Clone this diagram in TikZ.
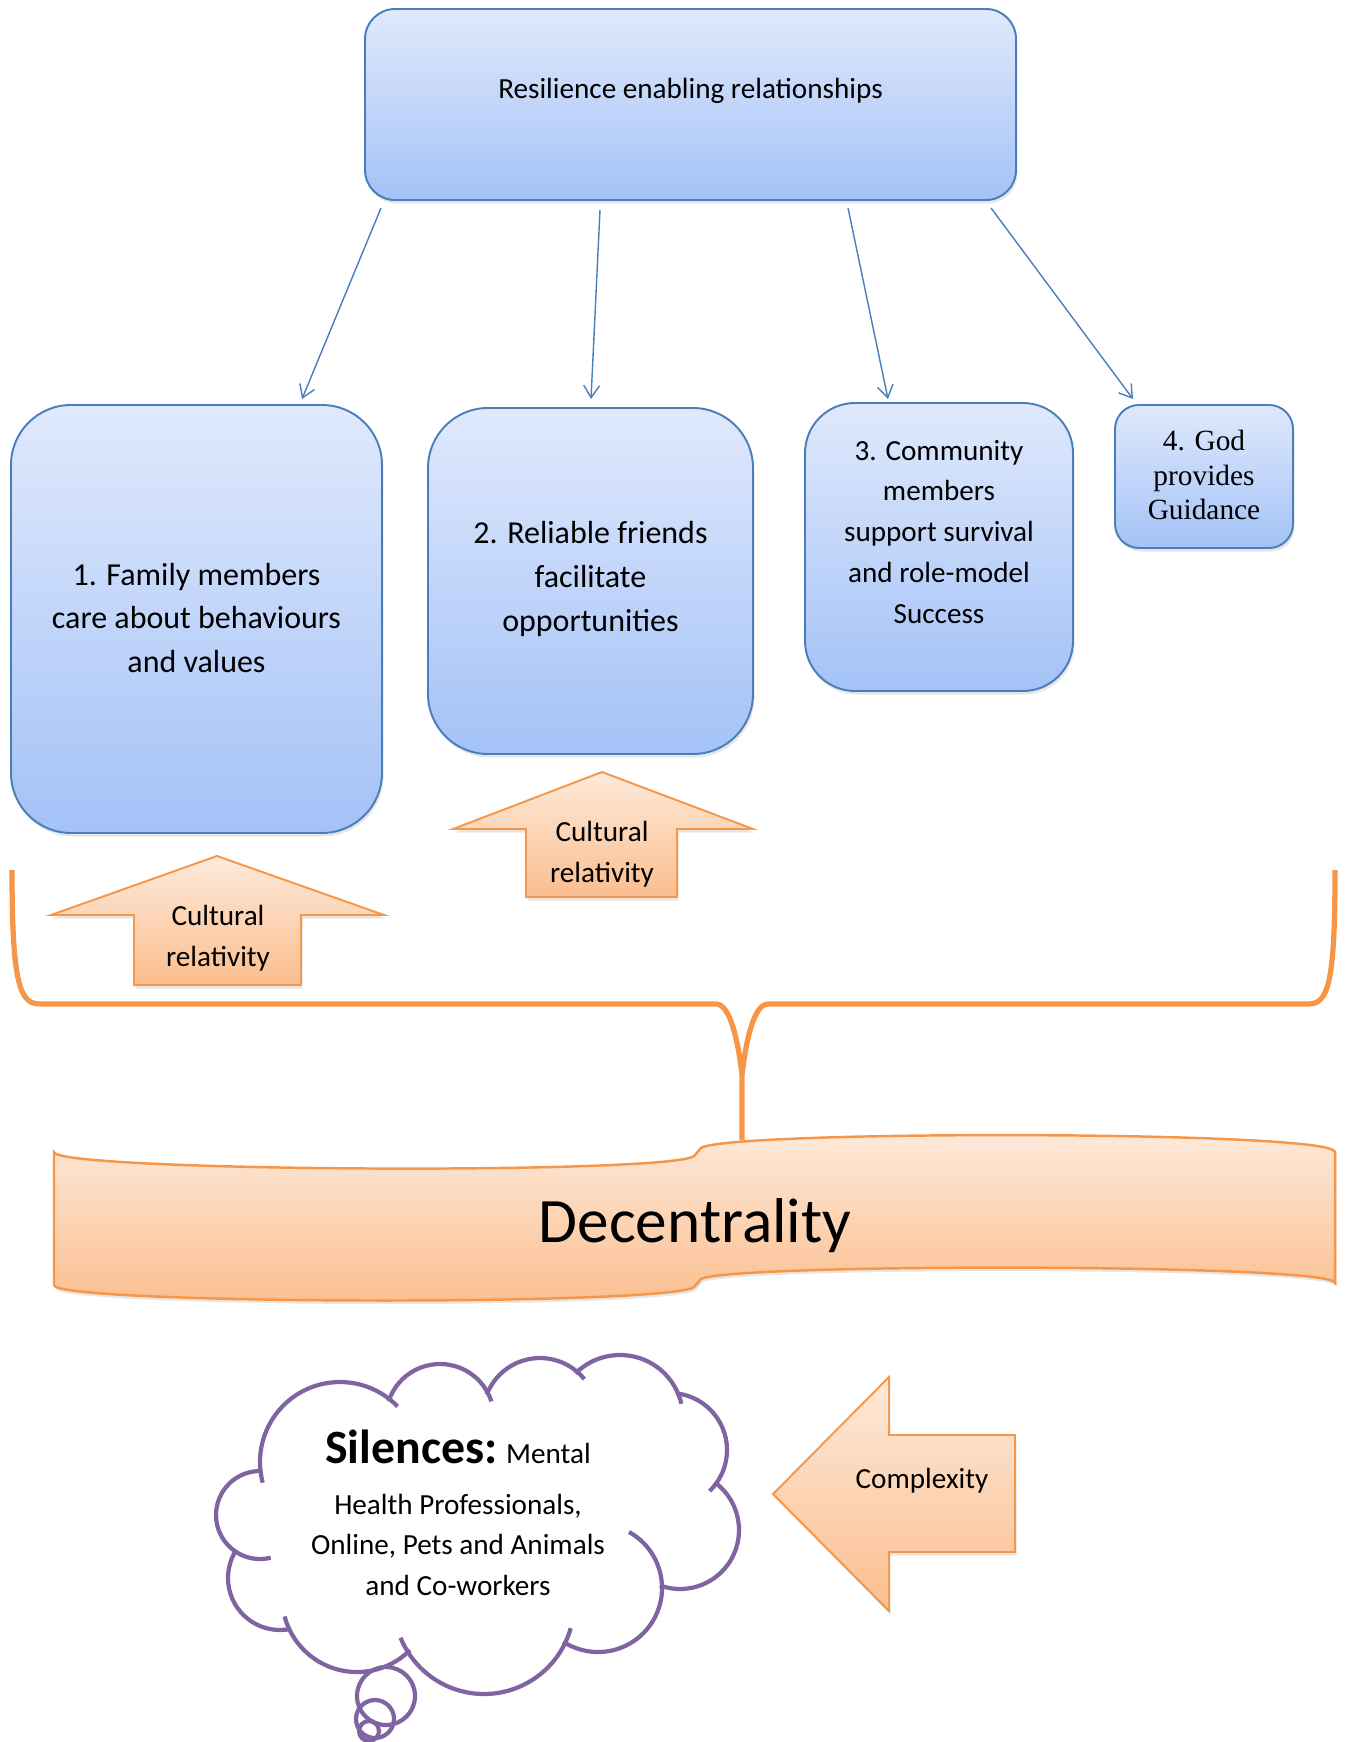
\documentclass[tikz,border=0pt]{standalone}
\usepackage{fontspec}
\setmainfont{Carlito}
\newfontfamily\timesfont{Liberation Serif}
\usetikzlibrary{arrows.meta}
\usetikzlibrary{calc}
\usetikzlibrary{fit}
\usetikzlibrary{shadows}

\definecolor{boxblue}{RGB}{74,126,187}
\definecolor{bluetop}{RGB}{224,233,252}
\definecolor{bluebot}{RGB}{163,194,247}
\definecolor{orangeline}{RGB}{247,150,70}
\definecolor{orangetop}{RGB}{253,234,219}
\definecolor{orangebot}{RGB}{251,190,142}
\definecolor{puffpurple}{RGB}{128,100,162}

\newcommand\boxfont{\fontsize{18.2}{25}\selectfont}
\newcommand\midfont{\fontsize{16.6}{23.3}\selectfont}
\newcommand\godfont{\timesfont\fontsize{16.7}{19.6}\selectfont}
\newcommand\decfont{\fontsize{36}{40}\selectfont}
\newcommand\silfont{\bfseries\fontsize{27.2}{30}\selectfont}

\begin{document}
\begin{tikzpicture}[x=0.2mm, y=-0.2mm,
	softshadow/.style={drop shadow={shadow xshift=0.3mm, shadow yshift=-0.7mm, opacity=0.2}},
	bluebox/.style={draw=boxblue, line width=1.1pt, top color=bluetop, bottom color=bluebot,
		inner sep=0pt, softshadow},
	orangebox/.style={draw=orangeline, line width=1.1pt, top color=orangetop, bottom color=orangebot,
		line join=miter, softshadow},
	link/.style={draw=boxblue, line width=0.8pt, -{Straight Barb[length=7pt, width=9pt]}},
	puff/.style={draw=puffpurple, line width=2.4pt}]

	\useasboundingbox (0,0) rectangle (1346,1742);

	% relationships
	\node[bluebox, rounded corners=6mm, fit={(365,9) (1016,200)}] (top) {};
	\node[font=\midfont] (toptext) at (690.5,91) {Resilience enabling relationships};

	\node[bluebox, rounded corners=12mm, fit={(11,405) (382,833)}] (fam) {};
	\node[align=center, font=\boxfont] (famtext) at (196.5,618)
		{1. Family members\\care about behaviours\\and values};
	\node[bluebox, rounded corners=12mm, fit={(428,408) (753,754)}] (friends) {};
	\node[align=center, font=\boxfont] (friendstext) at (590.5,579)
		{2. Reliable friends\\facilitate\\opportunities};
	\node[bluebox, rounded corners=10mm, fit={(805,403) (1073,691)}] (community) {};
	\node[align=center, font=\midfont] (commtext) at (939,532)
		{3. Community\\members\\support survival\\and role-model\\Success};
	\node[bluebox, rounded corners=4.8mm, fit={(1115,405) (1293,548)}] (god) {};
	\node[align=center, font=\godfont] (godtext) at (1204,475)
		{4. God\\provides\\Guidance};

	\draw[link] ($(top.south)+(-309.5,7)$) -- ($(fam.north)+(105.5,-5)$);
	\draw[link] ($(top.south)+(-90.5,9)$) -- ($(friends.north)+(0.5,-8)$);
	\draw[link] ($(top.south)+(157.5,7)$) -- ($(community.north)+(-51,-3)$);
	\draw[link] ($(top.south)+(300.5,7)$) -- ($(god.north)+(-71,-5)$);

	% cultural relativity arrows
	\draw[orangebox] (217,856) -- (384,915) -- (301,915) -- (301,985) -- (134,985)
		-- (134,915) -- (51,915) -- cycle;
	\node[align=center, font=\midfont] (cult1) at (218,938) {Cultural\\relativity};
	\draw[orangebox] (602,772) -- (753,829) -- (677,829) -- (677,897) -- (526,897)
		-- (526,829) -- (453,829) -- cycle;
	\node[align=center, font=\midfont] (cult2) at (602,854) {Cultural\\relativity};

	% brace
	\draw[orangeline, line width=3pt, line join=round]
		(12,870) .. controls (12,985) and (20,1004) .. (40,1004) -- (716,1004)
		.. controls (730,1004) and (738,1040) .. (742,1075) -- (742,1140)
		(742,1075) .. controls (746,1040) and (754,1004) .. (768,1004) -- (1308,1004)
		.. controls (1328,1004) and (1335,985) .. (1335,870);

	% decentrality banner
	\draw[orangeline, line width=1.4pt, top color=orangetop, bottom color=orangebot, softshadow]
		(54,1152) .. controls (54,1172) and (690,1175) .. (695,1155) -- (700,1149)
		.. controls (705,1130) and (1335,1130) .. (1335,1152) -- (1335,1283)
		.. controls (1335,1263) and (705,1263) .. (700,1280) -- (695,1286)
		.. controls (690,1306) and (54,1305) .. (54,1285) -- cycle;
	\node[font=\decfont] (dec) at (695,1226) {Decentrality};

	% silences cloud
	\foreach \cx/\cy/\r/\a/\b in {260/1515/44/76/273, 340/1462/80/165/316,
		440/1418/54/198/342, 540/1415/57/201/321, 620/1418/63/225/347,
		670/1450/57/276/406, 680/1530/59/306/470, 598/1588/64/299/483,
		484/1604/90/15.6/158, 357/1597/75/45/165, 280/1578/52/78/213}
		\draw[puff] (\cx,\cy) ++(\a:\r) arc[start angle=\a, end angle=\b, radius=\r];
	\draw[puff] (386,1696) circle[radius=29];
	\draw[puff] (375,1719) circle[radius=19];
	\draw[puff] (369,1731) circle[radius=10];
	\node[align=center, font=\midfont] (silence) at (458,1513)
		{{\silfont Silences:} Mental\\[5.5pt]Health Professionals,\\Online, Pets and Animals\\and Co-workers};

	% complexity arrow
	\draw[orangebox] (773,1494) -- (889,1377) -- (889,1435) -- (1015,1435) -- (1015,1552)
		-- (889,1552) -- (889,1611) -- cycle;
	\node[font=\midfont] (complex) at (922,1481) {Complexity};

\end{tikzpicture}
\end{document}
